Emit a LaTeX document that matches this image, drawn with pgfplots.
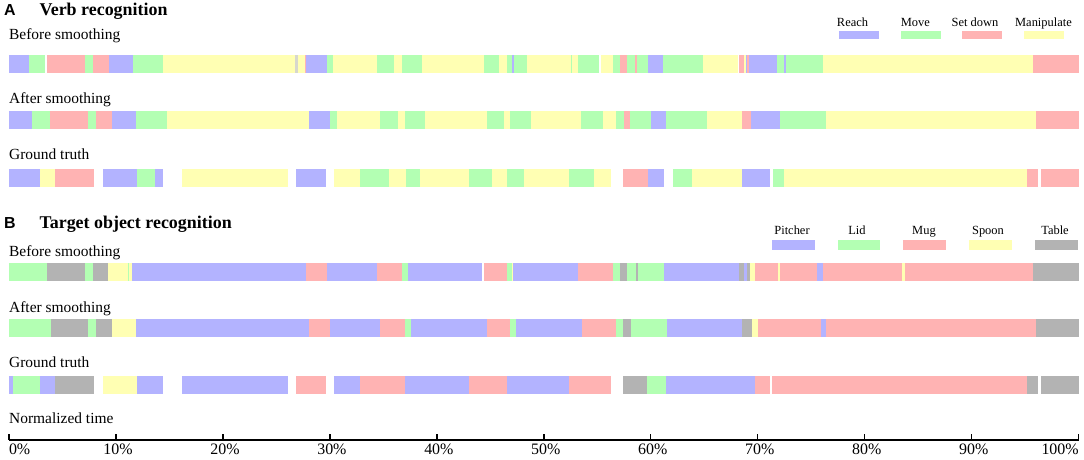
\documentclass[border=0pt]{standalone}
\usepackage{pgfplots}
\pgfplotsset{compat=1.18}
\usepackage{fontspec}
\setmainfont{Liberation Serif}
\newfontfamily\lsans{Liberation Sans}
\definecolor{cB}{RGB}{179,179,255}
\definecolor{cG}{RGB}{179,255,179}
\definecolor{cR}{RGB}{255,179,179}
\definecolor{cY}{RGB}{255,255,179}
\definecolor{cK}{RGB}{179,179,179}
\definecolor{cL}{RGB}{215,215,205}
\begin{document}
\begin{tikzpicture}
\path[use as bounding box] (0,0) rectangle (1084bp,460bp);
\begin{axis}[at={(0,0)}, anchor=south west, scale only axis,
  width=1084bp, height=460bp,
  xmin=-0.8414, xmax=100.496, ymin=0, ymax=460, y dir=reverse,
  hide axis, clip=false,
  every axis plot/.append style={no markers, unbounded coords=jump, line cap=butt}]
% ---------------- Verb: Reach
\addplot[cB, line width=18bp] coordinates {
(0,63.5)(1.87,63.5)(nan,nan)(9.35,63.5)(11.59,63.5)(nan,nan)(27.77,63.5)(29.73,63.5)(nan,nan)
(47.02,63.5)(47.21,63.5)(nan,nan)(59.74,63.5)(61.14,63.5)(nan,nan)(68.90,63.5)(68.99,63.5)(nan,nan)
(69.18,63.5)(71.80,63.5)(nan,nan)(72.45,63.5)(72.64,63.5)(nan,nan)
(0,120.2)(2.15,120.2)(nan,nan)(9.63,120.2)(11.87,120.2)(nan,nan)(28.04,120.2)(30.01,120.2)(nan,nan)
(60.01,120.2)(61.42,120.2)(nan,nan)(69.36,120.2)(72.07,120.2)(nan,nan)
(0,177.5)(2.90,177.5)(nan,nan)(8.79,177.5)(11.97,177.5)(nan,nan)(13.65,177.5)(14.40,177.5)(nan,nan)
(26.83,177.5)(29.63,177.5)(nan,nan)(59.73,177.5)(61.23,177.5)(nan,nan)(68.52,177.5)(71.14,177.5)
};
% ---------------- Verb: Move
\addplot[cG, line width=18bp] coordinates {
(1.87,63.5)(3.37,63.5)(nan,nan)(7.10,63.5)(7.85,63.5)(nan,nan)(11.59,63.5)(14.40,63.5)(nan,nan)
(29.73,63.5)(30.29,63.5)(nan,nan)(34.40,63.5)(35.99,63.5)(nan,nan)(36.74,63.5)(38.61,63.5)(nan,nan)
(44.40,63.5)(45.81,63.5)(nan,nan)(46.55,63.5)(47.02,63.5)(nan,nan)(47.21,63.5)(48.42,63.5)(nan,nan)
(52.54,63.5)(52.63,63.5)(nan,nan)(53.19,63.5)(55.16,63.5)(nan,nan)(56.46,63.5)(57.12,63.5)(nan,nan)
(57.77,63.5)(58.52,63.5)(nan,nan)(58.71,63.5)(59.74,63.5)(nan,nan)(61.14,63.5)(64.88,63.5)(nan,nan)
(71.80,63.5)(72.45,63.5)(nan,nan)(72.64,63.5)(76.10,63.5)(nan,nan)
(2.15,120.2)(3.83,120.2)(nan,nan)(7.38,120.2)(8.13,120.2)(nan,nan)(11.87,120.2)(14.77,120.2)(nan,nan)
(30.01,120.2)(30.66,120.2)(nan,nan)(34.68,120.2)(36.36,120.2)(nan,nan)(37.02,120.2)(38.89,120.2)(nan,nan)
(44.68,120.2)(46.27,120.2)(nan,nan)(46.83,120.2)(48.80,120.2)(nan,nan)(53.47,120.2)(55.53,120.2)(nan,nan)
(56.74,120.2)(57.49,120.2)(nan,nan)(58.05,120.2)(60.01,120.2)(nan,nan)(61.42,120.2)(65.25,120.2)(nan,nan)
(72.07,120.2)(76.37,120.2)(nan,nan)
(11.97,177.5)(13.65,177.5)(nan,nan)(32.81,177.5)(35.52,177.5)(nan,nan)(37.11,177.5)(38.42,177.5)(nan,nan)
(43.00,177.5)(45.15,177.5)(nan,nan)(46.55,177.5)(48.14,177.5)(nan,nan)(52.35,177.5)(54.69,177.5)(nan,nan)
(62.07,177.5)(63.85,177.5)(nan,nan)(71.42,177.5)(72.45,177.5)
};
% ---------------- Verb: Set down
\addplot[cR, line width=18bp] coordinates {
(3.55,63.5)(7.10,63.5)(nan,nan)(7.85,63.5)(9.35,63.5)(nan,nan)(27.67,63.5)(27.77,63.5)(nan,nan)
(57.12,63.5)(57.77,63.5)(nan,nan)(58.52,63.5)(58.71,63.5)(nan,nan)(68.24,63.5)(68.71,63.5)(nan,nan)
(68.99,63.5)(69.18,63.5)(nan,nan)(95.73,63.5)(100,63.5)(nan,nan)
(3.83,120.2)(7.38,120.2)(nan,nan)(8.13,120.2)(9.63,120.2)(nan,nan)(57.49,120.2)(58.05,120.2)(nan,nan)
(68.52,120.2)(69.36,120.2)(nan,nan)(96.00,120.2)(100,120.2)(nan,nan)
(4.30,177.5)(7.95,177.5)(nan,nan)(57.40,177.5)(59.73,177.5)(nan,nan)(95.16,177.5)(96.19,177.5)(nan,nan)
(96.47,177.5)(100,177.5)
};
% ---------------- Verb: Manipulate
\addplot[cY, line width=18bp] coordinates {
(14.40,63.5)(26.74,63.5)(nan,nan)(27.02,63.5)(27.67,63.5)(nan,nan)(30.29,63.5)(34.40,63.5)(nan,nan)
(35.99,63.5)(36.74,63.5)(nan,nan)(38.61,63.5)(44.40,63.5)(nan,nan)(45.81,63.5)(46.55,63.5)(nan,nan)
(48.42,63.5)(52.54,63.5)(nan,nan)(52.63,63.5)(53.19,63.5)(nan,nan)(55.34,63.5)(56.46,63.5)(nan,nan)
(64.88,63.5)(68.15,63.5)(nan,nan)(68.71,63.5)(68.90,63.5)(nan,nan)(76.10,63.5)(95.73,63.5)(nan,nan)
(14.77,120.2)(28.04,120.2)(nan,nan)(30.66,120.2)(34.68,120.2)(nan,nan)(36.36,120.2)(37.02,120.2)(nan,nan)
(38.89,120.2)(44.68,120.2)(nan,nan)(46.27,120.2)(46.83,120.2)(nan,nan)(48.80,120.2)(53.47,120.2)(nan,nan)
(55.53,120.2)(56.74,120.2)(nan,nan)(65.25,120.2)(68.52,120.2)(nan,nan)(76.37,120.2)(96.00,120.2)(nan,nan)
(2.90,177.5)(4.30,177.5)(nan,nan)(16.17,177.5)(26.08,177.5)(nan,nan)(30.38,177.5)(32.81,177.5)(nan,nan)
(35.52,177.5)(37.11,177.5)(nan,nan)(38.42,177.5)(43.00,177.5)(nan,nan)(45.15,177.5)(46.55,177.5)(nan,nan)
(48.14,177.5)(52.35,177.5)(nan,nan)(54.69,177.5)(56.28,177.5)(nan,nan)(63.85,177.5)(68.52,177.5)(nan,nan)
(72.45,177.5)(95.16,177.5)
};
% thin light stripe in first row
\addplot[cL, line width=18bp] coordinates {(26.74,63.5)(27.02,63.5)};
% ---------------- Object: Pitcher
\addplot[cB, line width=18bp] coordinates {
(11.50,271.7)(27.76,271.7)(nan,nan)(29.73,271.7)(34.40,271.7)(nan,nan)(37.30,271.7)(44.22,271.7)(nan,nan)
(47.11,271.7)(53.19,271.7)(nan,nan)(61.23,271.7)(68.24,271.7)(nan,nan)(68.71,271.7)(68.99,271.7)(nan,nan)
(75.53,271.7)(76.09,271.7)(nan,nan)
(11.87,328.2)(28.04,328.2)(nan,nan)(30.01,328.2)(34.68,328.2)(nan,nan)(37.58,328.2)(44.68,328.2)(nan,nan)
(47.39,328.2)(53.56,328.2)(nan,nan)(61.51,328.2)(68.52,328.2)(nan,nan)(75.91,328.2)(76.37,328.2)(nan,nan)
(0,385)(0.37,385)(nan,nan)(2.90,385)(4.30,385)(nan,nan)(11.97,385)(14.40,385)(nan,nan)
(16.17,385)(26.08,385)(nan,nan)(30.38,385)(32.81,385)(nan,nan)(37.02,385)(43.00,385)(nan,nan)
(46.55,385)(52.35,385)(nan,nan)(61.42,385)(69.74,385)
};
% ---------------- Object: Lid
\addplot[cG, line width=18bp] coordinates {
(0,271.7)(3.55,271.7)(nan,nan)(7.10,271.7)(7.85,271.7)(nan,nan)(11.12,271.7)(11.22,271.7)(nan,nan)
(36.74,271.7)(37.30,271.7)(nan,nan)(46.55,271.7)(47.02,271.7)(nan,nan)(56.46,271.7)(57.12,271.7)(nan,nan)
(57.77,271.7)(58.61,271.7)(nan,nan)(58.80,271.7)(61.23,271.7)(nan,nan)
(0,328.2)(3.93,328.2)(nan,nan)(7.38,328.2)(8.13,328.2)(nan,nan)(37.02,328.2)(37.58,328.2)(nan,nan)
(46.83,328.2)(47.39,328.2)(nan,nan)(56.74,328.2)(57.40,328.2)(nan,nan)(58.15,328.2)(61.51,328.2)(nan,nan)
(0.37,385)(2.90,385)(nan,nan)(59.64,385)(61.42,385)
};
% ---------------- Object: Mug
\addplot[cR, line width=18bp] coordinates {
(27.76,271.7)(29.73,271.7)(nan,nan)(34.40,271.7)(36.74,271.7)(nan,nan)(44.40,271.7)(46.55,271.7)(nan,nan)
(53.19,271.7)(56.46,271.7)(nan,nan)(69.74,271.7)(71.89,271.7)(nan,nan)(72.07,271.7)(75.53,271.7)(nan,nan)
(76.09,271.7)(83.48,271.7)(nan,nan)(83.76,271.7)(95.72,271.7)(nan,nan)
(28.04,328.2)(30.01,328.2)(nan,nan)(34.68,328.2)(37.02,328.2)(nan,nan)(44.68,328.2)(46.83,328.2)(nan,nan)
(53.56,328.2)(56.74,328.2)(nan,nan)(70.02,328.2)(75.91,328.2)(nan,nan)(76.37,328.2)(96.00,328.2)(nan,nan)
(26.83,385)(29.63,385)(nan,nan)(32.81,385)(37.02,385)(nan,nan)(43.00,385)(46.55,385)(nan,nan)
(52.35,385)(56.28,385)(nan,nan)(69.74,385)(71.14,385)(nan,nan)(71.33,385)(95.16,385)
};
% ---------------- Object: Spoon
\addplot[cY, line width=18bp] coordinates {
(9.25,271.7)(11.12,271.7)(nan,nan)(11.22,271.7)(11.50,271.7)(nan,nan)(47.02,271.7)(47.11,271.7)(nan,nan)
(69.27,271.7)(69.74,271.7)(nan,nan)(71.89,271.7)(72.07,271.7)(nan,nan)(83.48,271.7)(83.76,271.7)(nan,nan)
(9.63,328.2)(11.87,328.2)(nan,nan)(69.46,328.2)(70.02,328.2)(nan,nan)
(8.79,385)(11.97,385)
};
% ---------------- Object: Table
\addplot[cK, line width=18bp] coordinates {
(3.55,271.7)(7.10,271.7)(nan,nan)(7.85,271.7)(9.25,271.7)(nan,nan)(57.12,271.7)(57.77,271.7)(nan,nan)
(58.61,271.7)(58.80,271.7)(nan,nan)(68.24,271.7)(68.71,271.7)(nan,nan)(68.99,271.7)(69.27,271.7)(nan,nan)
(95.72,271.7)(100,271.7)(nan,nan)
(3.93,328.2)(7.38,328.2)(nan,nan)(8.13,328.2)(9.63,328.2)(nan,nan)(57.40,328.2)(58.15,328.2)(nan,nan)
(68.52,328.2)(69.46,328.2)(nan,nan)(96.00,328.2)(100,328.2)(nan,nan)
(4.30,385)(7.95,385)(nan,nan)(57.40,385)(59.64,385)(nan,nan)(95.16,385)(96.19,385)(nan,nan)
(96.47,385)(100,385)
};
% ---------------- legend swatches
\addplot[cB, line width=8.5bp] coordinates {(77.59,35.2)(81.33,35.2)};
\addplot[cG, line width=8.5bp] coordinates {(83.39,35.2)(87.13,35.2)};
\addplot[cR, line width=8.5bp] coordinates {(89.09,35.2)(92.83,35.2)};
\addplot[cY, line width=8.5bp] coordinates {(94.89,35.2)(98.63,35.2)};
\addplot[cB, line width=10bp] coordinates {(71.33,244.7)(75.35,244.7)};
\addplot[cG, line width=10bp] coordinates {(77.50,244.7)(81.42,244.7)};
\addplot[cR, line width=10bp] coordinates {(83.57,244.7)(87.59,244.7)};
\addplot[cY, line width=10bp] coordinates {(89.74,244.7)(93.76,244.7)};
\addplot[cK, line width=10bp] coordinates {(95.92,244.7)(99.93,244.7)};
\end{axis}
% ---------------- time axis
\begin{axis}[at={(9bp,20bp)}, anchor=south west, scale only axis,
  width=1069.7bp, height=20bp, xmin=0, xmax=100, ymin=0, ymax=1,
  axis x line*=bottom, hide y axis,
  xtick={0,10,...,100},
  xticklabels={\makebox[0pt][l]{\kern-2bp 0\%},10\%,20\%,30\%,40\%,50\%,60\%,70\%,80\%,90\%,\makebox[0pt][r]{100\%\kern2bp}},
  xtick align=inside, major tick length=5.5bp,
  tick style={black, line width=1.3bp},
  x axis line style={line width=1.3bp, -},
  xticklabel style={font=\fontsize{16}{16}\selectfont, inner sep=0pt, anchor=north, yshift=-3.5bp, xshift=2bp}]
\addplot[draw=none] coordinates {(0,0)(100,1)};
\end{axis}
% ---------------- texts
\node[anchor=base west, inner sep=0, font=\lsans\bfseries\fontsize{16}{16}\selectfont] at (4bp,444bp) {A};
\node[anchor=base west, inner sep=0, font=\bfseries\fontsize{18}{18}\selectfont] at (39.3bp,444bp) {Verb recognition};
\node[anchor=base west, inner sep=0, font=\lsans\bfseries\fontsize{16}{16}\selectfont] at (4bp,231bp) {B};
\node[anchor=base west, inner sep=0, font=\bfseries\fontsize{18}{18}\selectfont] at (39.3bp,231bp) {Target object recognition};
\begin{scope}[every node/.style={anchor=base west, inner sep=0, font=\fontsize{15.5}{16}\selectfont}]
\node at (9bp,420bp) {Before smoothing};
\node at (9bp,356bp) {After smoothing};
\node at (9bp,300.5bp) {Ground truth};
\node at (9bp,203.3bp) {Before smoothing};
\node at (9bp,147.5bp) {After smoothing};
\node at (9bp,92bp) {Ground truth};
\node at (9bp,36.5bp) {Normalized time};
\end{scope}
\begin{scope}[every node/.style={anchor=base, inner sep=0, font=\fontsize{12.5}{13}\selectfont}]
\node at (852.5bp,433.3bp) {Reach};
\node at (915.3bp,433.3bp) {Move};
\node at (975bp,433.3bp) {Set down};
\node at (1043.5bp,433.3bp) {Manipulate};
\node at (792bp,225.3bp) {Pitcher};
\node at (857bp,225.3bp) {Lid};
\node at (924bp,225.3bp) {Mug};
\node at (988bp,225.3bp) {Spoon};
\node at (1055bp,225.3bp) {Table};
\end{scope}
\end{tikzpicture}
\end{document}
